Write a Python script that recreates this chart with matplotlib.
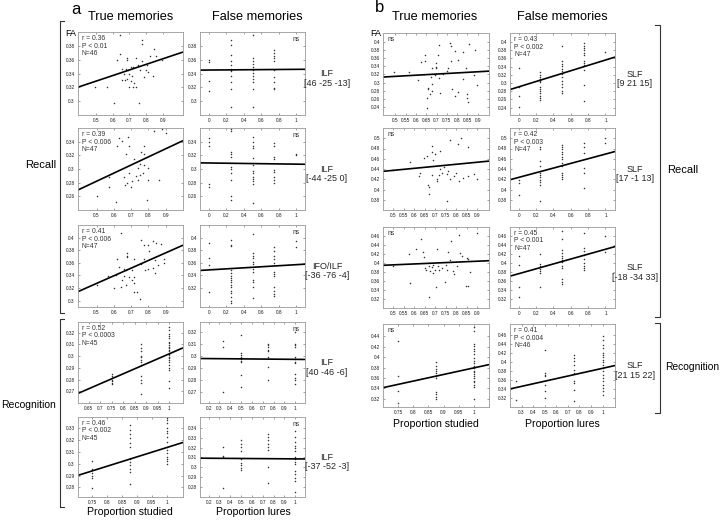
import matplotlib
matplotlib.use("Agg")
import matplotlib.pyplot as plt
import matplotlib.ticker as mticker
import numpy as np

plt.rcParams["font.family"] = ["Liberation Sans", "DejaVu Sans"]

W, H = 720, 520

# ──────────────────────────────────────────────────────────────────────────
# Data: (a) ILF / IFO tracts
# ──────────────────────────────────────────────────────────────────────────
a1_x = [0.643, 0.777, 0.773, 0.847, 0.643, 0.684, 0.684, 0.623, 0.742, 0.773,
        0.821, 0.860, 0.896, 0.807, 0.753, 0.722, 0.658, 0.678, 0.694, 0.708,
        0.761, 0.797, 0.813, 0.668, 0.698, 0.841, 0.714, 0.654, 0.688, 0.674,
        0.708, 0.728, 0.698, 0.722, 0.738, 0.496, 0.569, 0.609, 0.757, 0.787]
a1_y = [0.396, 0.388, 0.382, 0.375, 0.368, 0.363, 0.360, 0.359, 0.362, 0.358,
        0.365, 0.366, 0.360, 0.353, 0.352, 0.349, 0.346, 0.347, 0.345, 0.350,
        0.345, 0.345, 0.342, 0.340, 0.340, 0.336, 0.336, 0.331, 0.332, 0.330,
        0.329, 0.326, 0.320, 0.321, 0.320, 0.320, 0.320, 0.297, 0.297, 0.335]
a1_fit = (0.081, 0.2884)

a2_cols = {0.0: [0.359, 0.357, 0.329, 0.315],
           0.25: [0.389, 0.381, 0.367, 0.358, 0.353, 0.347, 0.345, 0.343, 0.337, 0.327, 0.317, 0.292],
           0.5: [0.396, 0.362, 0.358, 0.354, 0.350, 0.345, 0.341, 0.337, 0.332, 0.328, 0.318, 0.292],
           0.75: [0.374, 0.369, 0.366, 0.363, 0.358, 0.345, 0.335, 0.327, 0.319, 0.317]}
a2_fit = (0.001, 0.345)

a3_x = [0.876, 0.90, 0.63, 0.68, 0.645, 0.69, 0.62, 0.775, 0.833, 0.756,
        0.67, 0.775, 0.717, 0.752, 0.775, 0.737, 0.795, 0.766, 0.69, 0.573,
        0.66, 0.727, 0.752, 0.708, 0.679, 0.664, 0.698, 0.737, 0.795, 0.862,
        0.573, 0.5, 0.61, 0.79]
a3_y = [0.358, 0.353, 0.346, 0.347, 0.341, 0.333, 0.333, 0.334, 0.355, 0.325,
        0.322, 0.322, 0.314, 0.308, 0.306, 0.301, 0.301, 0.294, 0.294, 0.289,
        0.289, 0.290, 0.291, 0.282, 0.279, 0.277, 0.273, 0.284, 0.284, 0.284,
        0.274, 0.261, 0.251, 0.254]
a3_fit = (0.1189, 0.2226)

a4_cols = {0.0: [0.346, 0.340, 0.333, 0.278, 0.273],
           0.25: [0.358, 0.355, 0.325, 0.322, 0.318, 0.303, 0.300, 0.294, 0.284, 0.261, 0.254],
           0.5: [0.347, 0.339, 0.334, 0.331, 0.316, 0.306, 0.297, 0.294, 0.289, 0.285, 0.282, 0.278, 0.250],
           0.75: [0.338, 0.333, 0.317, 0.314, 0.299, 0.295, 0.289, 0.284, 0.280],
           1.0: [0.322, 0.320]}
a4_fit = (-0.0017, 0.3088)

a5_x = [0.64, 0.756, 0.772, 0.795, 0.824, 0.843, 0.872, 0.679, 0.675, 0.679,
        0.621, 0.717, 0.804, 0.775, 0.837, 0.891, 0.891, 0.756, 0.795, 0.779,
        0.824, 0.853, 0.631, 0.66, 0.67, 0.708, 0.564, 0.612, 0.66, 0.717,
        0.645, 0.688, 0.708, 0.717, 0.67, 0.64, 0.602, 0.717, 0.733, 0.752,
        0.837, 0.5]
a5_y = [0.407, 0.397, 0.388, 0.388, 0.394, 0.392, 0.390, 0.376, 0.371, 0.369,
        0.366, 0.366, 0.378, 0.366, 0.365, 0.366, 0.360, 0.358, 0.350, 0.349,
        0.352, 0.357, 0.353, 0.351, 0.348, 0.349, 0.339, 0.341, 0.339, 0.338,
        0.333, 0.337, 0.333, 0.328, 0.325, 0.321, 0.320, 0.314, 0.313, 0.302,
        0.344, 0.325]
a5_fit = (0.1213, 0.2667)

a6_cols = {0.0: [0.391, 0.367, 0.357, 0.314],
           0.25: [0.397, 0.388, 0.387, 0.349, 0.344, 0.339, 0.336, 0.333, 0.329, 0.325,
                  0.321, 0.316, 0.312, 0.306, 0.300, 0.296],
           0.5: [0.406, 0.375, 0.371, 0.367, 0.362, 0.358, 0.351, 0.346, 0.333, 0.329, 0.321, 0.305],
           0.75: [0.385, 0.378, 0.371, 0.366, 0.360, 0.346, 0.342, 0.339, 0.321, 0.316, 0.311, 0.307],
           1.0: [0.395, 0.385]}
a6_fit = (0.0083, 0.3488)

a7_cols = {0.75: [0.285, 0.283, 0.281, 0.280, 0.279, 0.277, 0.276],
           0.875: [0.310, 0.307, 0.304, 0.300, 0.299, 0.297, 0.295, 0.292, 0.283, 0.280, 0.277, 0.268],
           1.0: [0.325, 0.322, 0.319, 0.317, 0.315, 0.312, 0.311, 0.309, 0.308, 0.307, 0.305,
                 0.304, 0.302, 0.301, 0.299, 0.298, 0.297, 0.295, 0.292, 0.290, 0.288, 0.279, 0.273]}
a7_fit = (0.0848, 0.2171)

a8_cols = {0.33: [0.312, 0.3075, 0.270],
           0.5: [0.317, 0.3025, 0.3006, 0.299, 0.2975, 0.296, 0.295, 0.284, 0.274],
           0.75: [0.310, 0.309, 0.307, 0.305, 0.304, 0.299, 0.291, 0.280],
           1.0: [0.320, 0.310, 0.309, 0.3075, 0.299, 0.297, 0.295, 0.294, 0.285, 0.282, 0.280, 0.277]}
a8_fit = (-0.0008, 0.2979)

a9_cols = {0.75: [0.302, 0.2958, 0.2924, 0.290, 0.2879, 0.2794],
           0.875: [0.3325, 0.328, 0.3246, 0.3218, 0.317, 0.314, 0.304, 0.301, 0.2986, 0.2958, 0.293, 0.283],
           1.0: [0.338, 0.3367, 0.334, 0.3297, 0.3274, 0.3254, 0.3226, 0.3184, 0.314, 0.311,
                 0.3085, 0.3056, 0.3037, 0.302, 0.300]}
a9_fit = (0.078, 0.2354)

a10_cols = {0.33: [0.3208, 0.3117, 0.310, 0.2795],
            0.5: [0.3276, 0.3236, 0.3202, 0.3161, 0.3083, 0.3049, 0.3025, 0.2998, 0.2971],
            0.75: [0.3337, 0.331, 0.3276, 0.3236, 0.3202, 0.3175, 0.3005, 0.2846],
            1.0: [0.3371, 0.331, 0.3253, 0.3219, 0.3195, 0.3168, 0.310, 0.3083, 0.3059, 0.3032,
                  0.2964, 0.293, 0.2897, 0.2863, 0.2754]}
a10_fit = (-0.0008, 0.3094)

# ──────────────────────────────────────────────────────────────────────────
# Data: (b) SLF
# ──────────────────────────────────────────────────────────────────────────
b1_x = [0.495, 0.565, 0.609, 0.626, 0.642, 0.642, 0.658, 0.658, 0.667, 0.655,
        0.655, 0.678, 0.680, 0.675, 0.680, 0.696, 0.699, 0.699, 0.691, 0.708,
        0.711, 0.716, 0.712, 0.732, 0.753, 0.757, 0.765, 0.770, 0.770, 0.773,
        0.792, 0.789, 0.806, 0.802, 0.830, 0.846, 0.846, 0.842, 0.855, 0.858,
        0.887, 0.895, 0.884, 0.827]
b1_y = [0.3257, 0.3257, 0.3053, 0.350, 0.369, 0.3527, 0.2873, 0.2833, 0.2727, 0.2612,
        0.2384, 0.2971, 0.2792, 0.3135, 0.3347, 0.3486, 0.338, 0.3347, 0.3176, 0.369,
        0.3918, 0.2751, 0.3102, 0.320, 0.3282, 0.3363, 0.3976, 0.3894, 0.3527, 0.2833,
        0.2669, 0.3771, 0.2776, 0.3567, 0.3094, 0.271, 0.2629, 0.3363, 0.2531, 0.3959,
        0.3812, 0.2939, 0.3176, 0.3755]
b1_fit = (0.0282, 0.3011)

b2_cols = {0.0: [0.3362, 0.2909, 0.2691, 0.2408],
           0.25: [0.3257, 0.320, 0.3152, 0.3095, 0.3055, 0.3014, 0.2909, 0.2853, 0.2796,
                  0.2747, 0.2691, 0.2634, 0.2586],
           0.5: [0.3903, 0.3539, 0.3475, 0.3418, 0.3337, 0.3281, 0.3216, 0.3135, 0.3055,
                 0.2974, 0.2909, 0.2812, 0.2747],
           0.75: [0.3984, 0.3903, 0.3846, 0.3798, 0.3741, 0.3685, 0.3539, 0.3499, 0.3442,
                  0.3313, 0.2958, 0.2554],
           1.0: [0.3758]}
b2_fit = (0.0655, 0.2906)

b3_x = [0.5, 0.577, 0.644, 0.685, 0.685, 0.70, 0.721, 0.769, 0.821, 0.808,
        0.856, 0.628, 0.685, 0.705, 0.709, 0.716, 0.733, 0.753, 0.769, 0.786,
        0.797, 0.812, 0.829, 0.853, 0.885, 0.898, 0.663, 0.668, 0.668, 0.753,
        0.62, 0.66, 0.69, 0.72, 0.74, 0.76]
b3_y = [0.4373, 0.4527, 0.4612, 0.4849, 0.4739, 0.4695, 0.4758, 0.4965, 0.4997, 0.4887,
        0.4835, 0.4323, 0.429, 0.4207, 0.4161, 0.429, 0.4323, 0.431, 0.4207, 0.4257,
        0.4323, 0.4161, 0.4227, 0.4257, 0.431, 0.4207, 0.4097, 0.4053, 0.3905, 0.3776,
        0.4257, 0.466, 0.457, 0.440, 0.444, 0.436]
b3_fit = (0.0396, 0.4176)

b4_cols = {0.0: [0.4194, 0.413, 0.3886],
           0.25: [0.4835, 0.4785, 0.4547, 0.4464, 0.4323, 0.429, 0.4246, 0.4194, 0.4142,
                  0.4097, 0.3776],
           0.5: [0.4868, 0.4824, 0.4785, 0.4739, 0.4695, 0.4643, 0.4593, 0.4516, 0.4464,
                 0.4323, 0.429, 0.4246, 0.4207],
           0.75: [0.4901, 0.4835, 0.472, 0.4419, 0.4323, 0.4034],
           1.0: [0.5009, 0.4913]}
b4_fit = (0.0455, 0.4236)

b5_x = [0.5, 0.576, 0.608, 0.632, 0.640, 0.646, 0.651, 0.656, 0.667, 0.675,
        0.683, 0.687, 0.690, 0.698, 0.706, 0.710, 0.719, 0.730, 0.751, 0.757,
        0.762, 0.767, 0.773, 0.783, 0.789, 0.802, 0.810, 0.817, 0.825, 0.849,
        0.857, 0.865, 0.897, 0.846, 0.857, 0.579, 0.703, 0.667, 0.746]
b5_y = [0.3927, 0.4204, 0.4307, 0.4526, 0.4234, 0.4131, 0.3891, 0.3854, 0.3927, 0.3818,
        0.3912, 0.3964, 0.3781, 0.3854, 0.4307, 0.3927, 0.3854, 0.3891, 0.3964, 0.3854,
        0.4234, 0.4073, 0.4496, 0.3818, 0.3766, 0.3927, 0.462, 0.4219, 0.4146, 0.4109,
        0.4088, 0.3796, 0.4657, 0.3489, 0.3489, 0.3562, 0.3474, 0.3234, 0.3577]
b5_fit = (0.0202, 0.3858)

b6_cols = {0.0: [0.4161, 0.3964, 0.3474, 0.3234],
           0.25: [0.4204, 0.3985, 0.3927, 0.3869, 0.3818, 0.3781, 0.3474],
           0.5: [0.4715, 0.4526, 0.4292, 0.4219, 0.4161, 0.4109, 0.4058, 0.4015, 0.3942,
                 0.3891, 0.3635, 0.3577, 0.3526],
           0.75: [0.4657, 0.4328, 0.4277, 0.4182, 0.4088, 0.400, 0.3942, 0.3891, 0.3839],
           1.0: [0.4599, 0.4255]}
b6_fit = (0.0543, 0.3762)

b7_cols = {0.75: [0.4305, 0.363, 0.3351, 0.311],
           0.875: [0.3903, 0.3838, 0.3773, 0.374, 0.3695, 0.3643, 0.3591, 0.3331, 0.3286,
                   0.324, 0.3188],
           1.0: [0.4584, 0.450, 0.426, 0.4214, 0.4162, 0.411, 0.4065, 0.398, 0.3935, 0.389,
                 0.3838, 0.3786, 0.374, 0.3708, 0.3675, 0.3643, 0.3591, 0.3545, 0.3513,
                 0.3461, 0.3416, 0.3201]}
b7_fit = (0.1271, 0.2523)

b8_cols = {0.25: [0.357, 0.3163],
           0.5: [0.4274, 0.3756, 0.3719, 0.3681, 0.3496, 0.3348, 0.320],
           0.75: [0.4163, 0.4089, 0.4015, 0.3941, 0.383, 0.3756, 0.357, 0.3533, 0.337, 0.3126],
           1.0: [0.457, 0.4496, 0.4385, 0.4311, 0.420, 0.4163, 0.4111, 0.4052, 0.3993, 0.3941,
                 0.3867, 0.3793, 0.3719, 0.3644, 0.357, 0.3496, 0.3422, 0.3348, 0.3274]}
b8_fit = (0.0572, 0.3286)

stats_a = ["r = 0.36\nP < 0.01\nN=46", "r = 0.39\nP < 0.006\nN=47",
           "r = 0.41\nP < 0.006\nN=47", "r = 0.52\nP < 0.0003\nN=45",
           "r = 0.46\nP < 0.002\nN=45"]
stats_b = ["r = 0.43\nP < 0.002\nN=47", "r = 0.42\nP < 0.003\nN=47",
           "r = 0.45\nP < 0.001\nN=47", "r = 0.41\nP < 0.004\nN=46"]
regions_a = ["ILF\n[46 -25 -13]", "ILF\n[-44 -25 0]", "IFO/ILF\n[-36 -76 -4]",
             "ILF\n[40 -46 -6]", "ILF\n[-37 -52 -3]"]
regions_b = ["SLF\n[9 21 15]", "SLF\n[17 -1 13]", "SLF\n[-18 -34 33]", "SLF\n[21 15 22]"]


def cols_to_xy(cols):
    xs = np.concatenate([np.full(len(v), k) for k, v in cols.items()])
    ys = np.concatenate([np.asarray(v) for v in cols.values()])
    return xs, ys


def panel(fig, rect, xs, ys, fit, xlim, ylim, xticks, yticks, note, ns=False):
    l, t, r, b = rect
    ax = fig.add_axes([l / W, 1 - b / H, (r - l) / W, (b - t) / H])
    ax.plot(xs, ys, "o", ms=1.1, mew=0, color="0.2")
    fx = np.array(xlim)
    ax.plot(fx, fit[0] * fx + fit[1], color="black", lw=1.2, solid_capstyle="butt")
    ax.set_xlim(*xlim)
    ax.set_ylim(*ylim)
    ax.set_xticks(xticks)
    ax.set_yticks(yticks)
    fmt = mticker.FuncFormatter(lambda v, p: f"{round(v, 3):g}")
    ax.xaxis.set_major_formatter(fmt)
    ax.yaxis.set_major_formatter(fmt)
    ax.tick_params(direction="in", length=1.5, width=0.4, labelsize=3.4,
                   pad=2, top=True, right=True, colors="0.35", labelcolor="0.1")
    for s in ax.spines.values():
        s.set_color("0.6")
        s.set_linewidth(0.6)
    if note:
        ax.text(0.04, 0.96, note, transform=ax.transAxes, va="top", ha="left",
                fontsize=4.9, color="0.2", linespacing=1.05)
    if ns:
        ax.text(0.95, 0.95, "ns", transform=ax.transAxes, va="top", ha="right",
                fontsize=4.9, color="0.2")
    return ax


fig = plt.figure(figsize=(W / 100, H / 100), dpi=100)
fig.patch.set_facecolor("white")

# overlay in pixel coordinates for brackets
ov = fig.add_axes([0, 0, 1, 1])
ov.set_xlim(0, W)
ov.set_ylim(H, 0)
ov.axis("off")

true_a = np.arange(0.5, 0.91, 0.1)
lure_a = np.arange(0, 1.01, 0.2)
true_b = np.arange(0.5, 0.91, 0.05)

# ---- panel a ----
colA1, colA2 = (77.5, 183), (200, 305)
rowsA = [(32, 115), (128, 210), (225, 307), (322, 403), (417, 497)]

panel(fig, (colA1[0], rowsA[0][0], colA1[1], rowsA[0][1]), a1_x, a1_y, a1_fit,
      (0.39, 1.02), (0.28, 0.40), true_a, np.arange(0.30, 0.381, 0.02), stats_a[0])
x, y = cols_to_xy(a2_cols)
panel(fig, (colA2[0], rowsA[0][0], colA2[1], rowsA[0][1]), x, y, a2_fit,
      (-0.1, 1.1), (0.28, 0.40), lure_a, np.arange(0.30, 0.381, 0.02), None, ns=True)

panel(fig, (colA1[0], rowsA[1][0], colA1[1], rowsA[1][1]), a3_x, a3_y, a3_fit,
      (0.39, 1.0), (0.24, 0.36), true_a, np.arange(0.26, 0.341, 0.02), stats_a[1])
x, y = cols_to_xy(a4_cols)
panel(fig, (colA2[0], rowsA[1][0], colA2[1], rowsA[1][1]), x, y, a4_fit,
      (-0.1, 1.1), (0.24, 0.36), lure_a, np.arange(0.26, 0.341, 0.02), None, ns=True)

panel(fig, (colA1[0], rowsA[2][0], colA1[1], rowsA[2][1]), a5_x, a5_y, a5_fit,
      (0.39, 1.0), (0.29, 0.42), true_a, np.arange(0.30, 0.401, 0.02), stats_a[2])
x, y = cols_to_xy(a6_cols)
panel(fig, (colA2[0], rowsA[2][0], colA2[1], rowsA[2][1]), x, y, a6_fit,
      (-0.1, 1.1), (0.29, 0.42), lure_a, np.arange(0.32, 0.401, 0.02), None, ns=True)

x, y = cols_to_xy(a7_cols)
panel(fig, (colA1[0], rowsA[3][0], colA1[1], rowsA[3][1]), x, y, a7_fit,
      (0.6, 1.06), (0.26, 0.329), np.arange(0.65, 1.001, 0.05),
      np.arange(0.27, 0.321, 0.01), stats_a[3])
x, y = cols_to_xy(a8_cols)
panel(fig, (colA2[0], rowsA[3][0], colA2[1], rowsA[3][1]), x, y, a8_fit,
      (0.12, 1.09), (0.261, 0.328), np.arange(0.2, 1.001, 0.1),
      np.arange(0.27, 0.321, 0.01), None, ns=True)

x, y = cols_to_xy(a9_cols)
panel(fig, (colA1[0], rowsA[4][0], colA1[1], rowsA[4][1]), x, y, a9_fit,
      (0.70, 1.055), (0.272, 0.339), np.arange(0.75, 1.001, 0.05),
      np.arange(0.28, 0.331, 0.01), stats_a[4])
x, y = cols_to_xy(a10_cols)
panel(fig, (colA2[0], rowsA[4][0], colA2[1], rowsA[4][1]), x, y, a10_fit,
      (0.12, 1.09), (0.27, 0.351), np.arange(0.2, 1.001, 0.1),
      np.arange(0.28, 0.341, 0.01), None, ns=True)

# ---- panel b ----
colB1, colB2 = (383, 489), (510, 615)
rowsB = [(33, 115), (128, 210), (227, 308), (324, 407)]

panel(fig, (colB1[0], rowsB[0][0], colB1[1], rowsB[0][1]), b1_x, b1_y, b1_fit,
      (0.44, 0.955), (0.22, 0.422), true_b, np.arange(0.24, 0.401, 0.02), None)
x, y = cols_to_xy(b2_cols)
panel(fig, (colB2[0], rowsB[0][0], colB2[1], rowsB[0][1]), x, y, b2_fit,
      (-0.1, 1.11), (0.222, 0.422), lure_a, np.arange(0.24, 0.401, 0.02), stats_b[0])

panel(fig, (colB1[0], rowsB[1][0], colB1[1], rowsB[1][1]), b3_x, b3_y, b3_fit,
      (0.45, 0.955), (0.36, 0.52), true_b, np.arange(0.38, 0.501, 0.02), None)
x, y = cols_to_xy(b4_cols)
panel(fig, (colB2[0], rowsB[1][0], colB2[1], rowsB[1][1]), x, y, b4_fit,
      (-0.1, 1.11), (0.36, 0.52), lure_a, np.arange(0.38, 0.501, 0.02), stats_b[1])

panel(fig, (colB1[0], rowsB[2][0], colB1[1], rowsB[2][1]), b5_x, b5_y, b5_fit,
      (0.45, 0.955), (0.30, 0.48), true_b, np.arange(0.32, 0.461, 0.02), None)
x, y = cols_to_xy(b6_cols)
panel(fig, (colB2[0], rowsB[2][0], colB2[1], rowsB[2][1]), x, y, b6_fit,
      (-0.1, 1.11), (0.30, 0.48), lure_a, np.arange(0.32, 0.461, 0.02), stats_b[2])

x, y = cols_to_xy(b7_cols)
panel(fig, (colB1[0], rowsB[3][0], colB1[1], rowsB[3][1]), x, y, b7_fit,
      (0.70, 1.05), (0.304, 0.464), np.arange(0.75, 1.001, 0.05),
      np.arange(0.32, 0.441, 0.02), None)
x, y = cols_to_xy(b8_cols)
panel(fig, (colB2[0], rowsB[3][0], colB2[1], rowsB[3][1]), x, y, b8_fit,
      (0.2, 1.107), (0.30, 0.484), np.arange(0.3, 1.001, 0.1),
      np.arange(0.32, 0.461, 0.02), stats_b[3])


def px_text(x, y, s, **kw):
    fig.text(x / W, 1 - y / H, s, **kw)


# "ns" labels in the b true-memories column
for (t, b) in rowsB:
    px_text(colB1[0] + 5, t + 3, "ns", fontsize=4.9, color="0.2", va="top", ha="left")

# headings
px_text(76, 9, "a", fontsize=12, va="center", ha="center")
px_text(380, 7, "b", fontsize=12, va="center", ha="center")
for cx, s in [(131, "True memories"), (257, "False memories"),
              (435, "True memories"), (562, "False memories")]:
    px_text(cx, 17, s, fontsize=9.2, va="center", ha="center")
px_text(76, 38.5, "FA", fontsize=6.5, va="bottom", ha="right")
px_text(381, 38.5, "FA", fontsize=6.5, va="bottom", ha="right")

# region labels
for (t, b), s in zip(rowsA, regions_a):
    px_text(327, (t + b) / 2 + 5, s, fontsize=6.5, ha="center", va="center",
            color="0.15", linespacing=1.1)
for (t, b), s in zip(rowsB, regions_b):
    px_text(635, (t + b) / 2 + 5, s, fontsize=6.5, ha="center", va="center",
            color="0.15", linespacing=1.1)

# axis labels
px_text(130, 512, "Proportion studied", fontsize=7.6, ha="center", va="center")
px_text(253, 512, "Proportion lures", fontsize=7.6, ha="center", va="center")
px_text(436, 424, "Proportion studied", fontsize=7.6, ha="center", va="center")
px_text(562, 424, "Proportion lures", fontsize=7.6, ha="center", va="center")

# brackets
bk = dict(color="0.2", lw=0.8)
for y0, y1 in [(21, 313), (319, 507)]:
    ov.plot([64, 60, 60, 64], [y0, y0, y1, y1], **bk)
for y0, y1 in [(25, 317), (323, 413)]:
    ov.plot([655, 660, 660, 655], [y0, y0, y1, y1], **bk)
px_text(56, 165, "Recall", fontsize=8, ha="right", va="center")
px_text(56, 405, "Recognition", fontsize=7.5, ha="right", va="center")
px_text(667, 170, "Recall", fontsize=8, ha="left", va="center")
px_text(665, 367, "Recognition", fontsize=7.4, ha="left", va="center")

fig.savefig("out.png", dpi=100, facecolor="white")
